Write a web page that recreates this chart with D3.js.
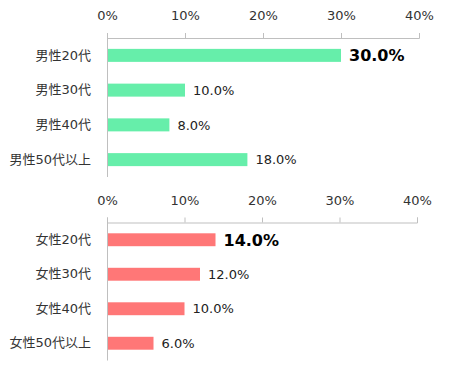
<!DOCTYPE html>
<html><head><meta charset="utf-8">
<script src="https://cdn.jsdelivr.net/npm/d3@7"></script>
<style>
body{margin:0;background:#fff;}
svg text{font-family:"DejaVu Sans","Noto Sans CJK JP",sans-serif;}
</style></head>
<body><svg id="c" width="450" height="376"></svg>
<script>
const maleCategories = ["男性20代","男性30代","男性40代","男性50代以上"];
const maleValues = [30.0, 10.0, 8.0, 18.0];
const femaleCategories = ["女性20代","女性30代","女性40代","女性50代以上"];
const femaleValues = [14.0, 12.0, 10.0, 6.0];
const tickValues = [0, 10, 20, 30, 40];

const svg = d3.select("#c");
const axisColor = "#BFBFBF";

function panel(cats, vals, color, top, bottom, xRight){
  const x = d3.scaleLinear().domain([0,40]).range([107, xRight]);
  const y = d3.scaleBand().domain(cats).range([top, bottom]).paddingInner(0.626).paddingOuter(0.313);
  const g = svg.append("g");
  const ax = g.append("g").attr("transform", `translate(0,${top})`)
    .call(d3.axisTop(x).tickValues(tickValues).tickFormat(d => d + "%").tickSize(5).tickPadding(13));
  ax.select(".domain").attr("stroke", axisColor).attr("d", `M${x(0)+0.5},-5V0.5H${xRight+0.5}V-5`);
  ax.selectAll(".tick line").attr("stroke", axisColor);
  ax.selectAll(".tick text").style("font-size", "13px").attr("fill", "#333");
  const ay = g.append("g").attr("transform", `translate(${x(0)},0)`)
    .call(d3.axisLeft(y).tickSize(0).tickPadding(16));
  ay.select(".domain").attr("stroke", axisColor).attr("d", `M0.5,${top}V${bottom}`);
  ay.selectAll(".tick text").style("font-size", "13px").attr("fill", "#333");
  const data = cats.map((c,i)=>({c, v: vals[i], i}));
  g.selectAll("rect.bar").data(data).join("rect").attr("class","bar")
    .attr("x", x(0)+1).attr("y", d => y(d.c)).attr("width", d => x(d.v)-x(0)-1)
    .attr("height", y.bandwidth()).attr("fill", color);
  g.selectAll("text.val").data(data).join("text").attr("class","val")
    .attr("x", d => x(d.v) + 8).attr("y", d => y(d.c) + y.bandwidth()/2).attr("dy","0.36em")
    .style("font-size", d => d.i===0 ? "16px" : "13px")
    .attr("font-weight", d => d.i===0 ? "bold" : "normal")
    .attr("fill", d => d.i===0 ? "#000" : "#222")
    .text(d => d.v.toFixed(1) + "%");
}
panel(maleCategories, maleValues, "#66EEAA", 38, 177, 419);
panel(femaleCategories, femaleValues, "#FF7777", 222.5, 360.5, 417);
</script></body></html>
